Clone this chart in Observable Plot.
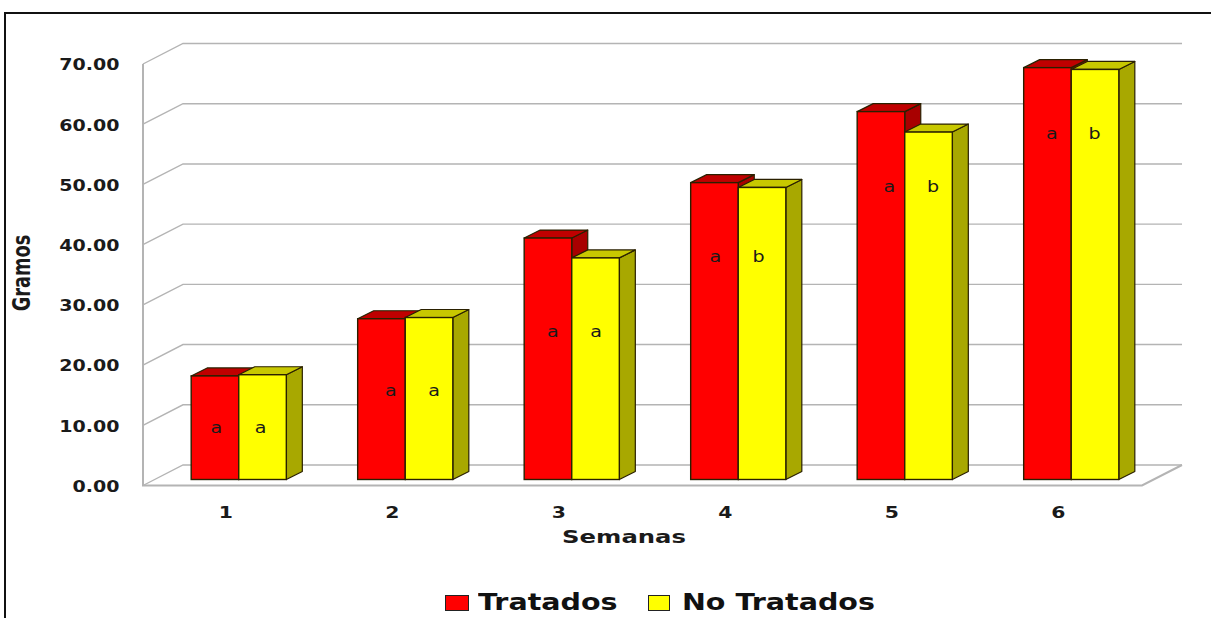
<!DOCTYPE html>
<html>
<head>
<meta charset="utf-8">
<script src="https://cdn.jsdelivr.net/npm/d3@7"></script>
<script src="https://cdn.jsdelivr.net/npm/@observablehq/plot@0.6"></script>
<style>
  html, body { margin: 0; padding: 0; background: #fff; overflow: hidden; }
  #page { position: relative; width: 1211px; height: 618px; overflow: hidden; font-family: "DejaVu Sans", sans-serif; }
  #frame { position: absolute; left: 4px; top: 12px; width: 1300px; height: 700px; border: 2px solid #111; box-sizing: border-box; pointer-events: none; }
  #chart svg { display: block; background: transparent; }
  #legend { position: absolute; left: 0; top: 587px; height: 30px; width: 100%; font-weight: bold; font-size: 23px; color: #111; }
  #legend i { position: absolute; top: 8px; height: 14px; border: 1.5px solid #222; }
  #legend span { position: absolute; top: 0; line-height: 30px; white-space: nowrap; transform: scaleX(1.24); transform-origin: left center; }
</style>
</head>
<body>
<div id="page">
  <div id="frame"></div>
  <div id="chart"></div>
  <div id="legend">
    <i style="left:445px;width:22px;background:#ff0000"></i><span style="left:478px">Tratados</span>
    <i style="left:648px;width:20px;background:#ffff00"></i><span style="left:682px">No Tratados</span>
  </div>
</div>
<script>
// Peso semanal (gramos) y letras de significancia por tratamiento
const semanas = ["1", "2", "3", "4", "5", "6"];
const series = ["Tratados", "No Tratados"];
const tratados = [17.2, 26.7, 40.1, 49.3, 61.1, 68.4];
const noTratados = [17.4, 26.9, 36.8, 48.5, 57.7, 68.1];
const letrasTratados = ["a", "a", "a", "a", "a", "a"];
const letrasNoTratados = ["a", "a", "a", "b", "b", "b"];
const yTicks = [0, 10, 20, 30, 40, 50, 60, 70];

// Altura en gramos a la que se escribe cada letra
const alturaLetra = [8.5, 14.6, 24.4, 36.9, 48.4, 57.2];
// Ajuste horizontal de cada letra, en píxeles
const ajusteTratados = [1, 9, 4.5, 0.5, 8, 4];
const ajusteNoTratados = [-2.5, 4.5, 0, -4, 4, -1];

const rows = semanas.flatMap((w, i) => [
  {week: w, series: series[0], value: tratados[i], letter: letrasTratados[i], at: alturaLetra[i], nudge: ajusteTratados[i]},
  {week: w, series: series[1], value: noTratados[i], letter: letrasNoTratados[i], at: alturaLetra[i], nudge: ajusteNoTratados[i]}
]);

const colors = {
  Tratados: {front: "#ff0000", top: "#c00000", side: "#a80000"},
  "No Tratados": {front: "#ffff00", top: "#c8c800", side: "#a8a800"}
};

// Desplazamientos de la perspectiva
const wallDx = 40, wallDy = -20.5;   // pared de fondo
const barDx = 12.5, barDy = -6;      // base de las barras
const depthDx = 16, depthDy = -8;    // profundidad de cada barra
const edge = "#2a2000";
const gridColor = "#b4b4b4";

// Líneas de la pared y el suelo
function walls(index, scales, values, dims) {
  const left = dims.marginLeft, right = dims.width - dims.marginRight;
  const g = d3.create("svg:g").attr("fill", "none").attr("stroke", gridColor).attr("stroke-width", 1.4);
  const y = yTicks.map((t) => scales.y(t));
  const y0 = d3.max(y), yTop = d3.min(y);
  for (const v of y) {
    g.append("path").attr("d", `M${left},${v}L${left + wallDx},${v + wallDy}L${right + wallDx},${v + wallDy}`);
  }
  g.append("path").attr("d", `M${left},${yTop}V${y0}H${right}L${right + wallDx},${y0 + wallDy}`).attr("stroke-width", 2);
  return g.node();
}

// Caras superior y lateral de las barras
function barDepth(index, scales, values) {
  const w = scales.x(series[1]) - scales.x(series[0]);
  const g = d3.create("svg:g").attr("stroke", edge).attr("stroke-width", 1.2).attr("stroke-linejoin", "round");
  for (const i of index) {
    const c = colors[rows[i].series];
    const x0 = values.x[i] + barDx, x1 = x0 + w;
    const yt = values.y2[i] + barDy, yb = values.y1[i] + barDy;
    g.append("path").attr("fill", c.side)
      .attr("d", `M${x1},${yt}L${x1 + depthDx},${yt + depthDy}V${yb + depthDy}L${x1},${yb}Z`);
    g.append("path").attr("fill", c.top)
      .attr("d", `M${x0},${yt}L${x0 + depthDx},${yt + depthDy}H${x1 + depthDx}L${x1},${yt}Z`);
  }
  return g.node();
}

const plot = Plot.plot({
  width: 1211,
  height: 587,
  marginLeft: 143,
  marginRight: 69,
  marginTop: 64,
  marginBottom: 101.5,
  style: {background: "transparent", color: "#1a1a1a", overflow: "visible"},
  fx: {domain: semanas, padding: 0, round: false, label: null},
  x: {domain: series, paddingInner: 0, paddingOuter: 0.75, round: false, axis: null},
  y: {domain: [0, 70]},
  color: {domain: series, range: series.map((s) => colors[s].front)},
  marks: [
    Plot.frame({facet: "super", stroke: "none", render: walls}),
    Plot.axisY({
      ticks: yTicks, tickFormat: ".2f", tickSize: 0, tickPadding: 24, label: null, dy: 1,
      fontSize: 15, fontWeight: "bold", fontFamily: "DejaVu Sans"
    }),
    Plot.axisFx({
      anchor: "bottom", tickSize: 0, tickPadding: 21, label: null, dx: -1,
      fontSize: 16, fontWeight: "bold", fontFamily: "DejaVu Sans"
    }),
    Plot.barY(rows, {fx: "week", x: "series", y: "value", stroke: "none", render: barDepth}),
    Plot.barY(rows, {
      fx: "week", x: "series", y: "value", fill: "series",
      stroke: edge, strokeWidth: 1.4, dx: barDx, dy: barDy
    }),
    ...rows.map((r) => Plot.text([r], {
      fx: "week", x: "series", y: "at", text: "letter",
      dx: barDx + r.nudge, dy: barDy - 1,
      fontSize: 15, fontFamily: "DejaVu Sans", fill: "#1a1a1a"
    })),
    Plot.text(["Gramos"], {
      facet: "super", frameAnchor: "left", text: (d) => d, rotate: -90,
      dx: -121, dy: 36, fontSize: 24, fontWeight: "bold", fontFamily: "DejaVu Sans", fill: "#1a1a1a"
    }),
    Plot.text(["Semanas"], {
      facet: "super", frameAnchor: "bottom", text: (d) => d,
      dx: -19, dy: 57, fontSize: 18, fontWeight: "bold", fontFamily: "DejaVu Sans", fill: "#1a1a1a"
    })
  ]
});
document.getElementById("chart").append(plot);

// Ensancha los textos en horizontal y estrecha el título vertical
for (const t of plot.querySelectorAll("text")) {
  const s = t.textContent;
  if (!s.trim()) continue;
  const k = s === "Gramos" ? 0.74 : s === "Semanas" ? 1.35 : 1.27;
  t.setAttribute("textLength", t.getComputedTextLength() * k);
  t.setAttribute("lengthAdjust", "spacingAndGlyphs");
}
</script>
</body>
</html>
